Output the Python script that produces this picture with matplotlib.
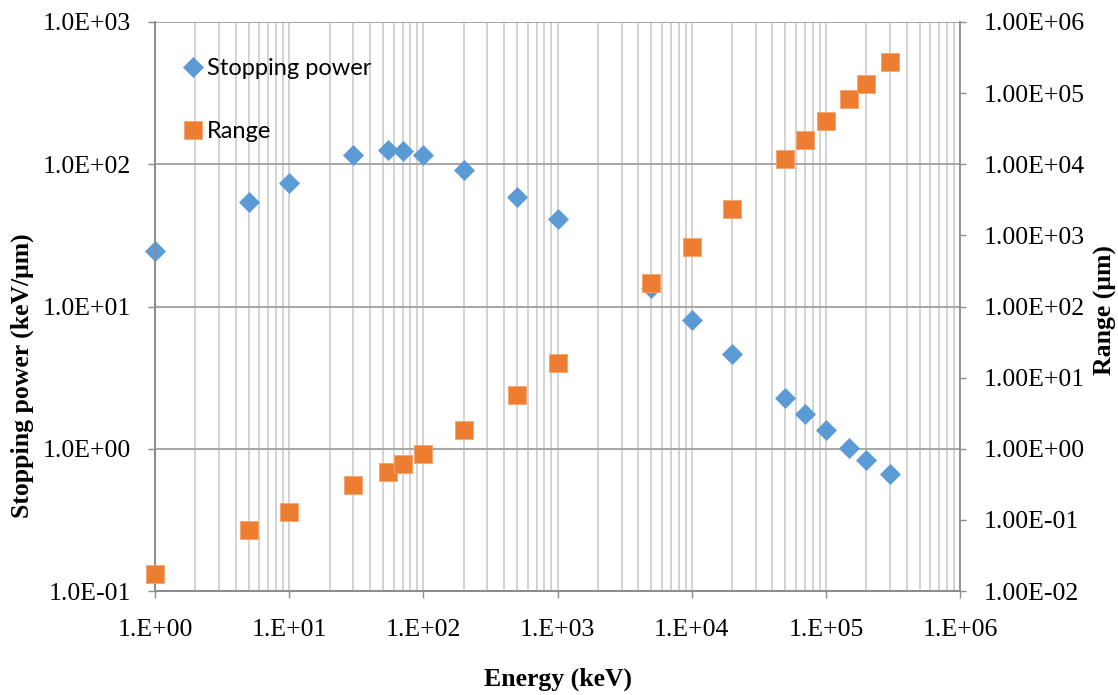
import numpy as np
import matplotlib
matplotlib.use("Agg")
import matplotlib.pyplot as plt
from matplotlib.ticker import FuncFormatter, NullLocator, LogLocator

# Data
energy_kev = [1, 5, 10, 30, 55, 70, 100, 200, 500, 1000, 5000,
              1e4, 2e4, 5e4, 7e4, 1e5, 1.5e5, 2e5, 3e5]
stopping_power = [24.4, 54, 73.5, 116, 126, 124, 116, 90.7, 58.6, 41.0, 13.6,
                  8.1, 4.67, 2.29, 1.76, 1.36, 1.02, 0.84, 0.66]
range_um = [0.0175, 0.0726, 0.13, 0.312, 0.475, 0.615, 0.85, 1.85, 5.75, 16.2, 216,
            693, 2375, 1.2e4, 2.22e4, 4.1e4, 8.4e4, 1.36e5, 2.77e5]

BLUE = "#5B9BD5"
ORANGE = "#ED7D31"
AXIS_GRAY = "#8C8C8C"
SERIF = ["Liberation Serif", "DejaVu Serif"]

fig = plt.figure(figsize=(11.18, 6.95), dpi=100)
ax = fig.add_axes([155 / 1118, 1 - 591 / 695, (960 - 155) / 1118, (591 - 22) / 695])
ax2 = ax.twinx()

# stopping power on left axis
sp, = ax.plot(energy_kev, stopping_power, linestyle="none", marker="D",
              markersize=9.7, color=BLUE, mec=BLUE, mew=0.5, label="Stopping power",
              clip_on=False, zorder=3)
ax.set_xscale("log")
ax.set_yscale("log")
ax.set_xlim(1, 1e6)
ax.set_ylim(0.1, 1000)

# range on right axis
rg, = ax2.plot(energy_kev, range_um, linestyle="none", marker="s",
               markersize=13.5, color=ORANGE, mec="#F4A46E", mew=0.6, label="Range",
               clip_on=False, zorder=3)
ax2.set_yscale("log")
ax2.set_ylim(1e-2, 1e6)

# ticks
ax.set_xticks(10.0 ** np.arange(0, 7))
ax.xaxis.set_minor_locator(LogLocator(base=10, subs=np.arange(2, 10), numticks=20))
ax.set_yticks(10.0 ** np.arange(-1, 4))
ax.yaxis.set_minor_locator(NullLocator())
ax2.set_yticks(10.0 ** np.arange(-2, 7))
ax2.yaxis.set_minor_locator(NullLocator())

ax.xaxis.set_major_formatter(FuncFormatter(lambda v, p: f"{v:#.0E}"))
ax.yaxis.set_major_formatter(FuncFormatter(lambda v, p: f"{v:.1E}"))
ax2.yaxis.set_major_formatter(FuncFormatter(lambda v, p: f"{v:.2E}"))

ax.tick_params(axis="x", which="major", length=5, width=1, color=AXIS_GRAY,
               pad=15, labelsize=18.5)
ax.tick_params(axis="x", which="minor", length=0)
ax.tick_params(axis="y", which="major", length=5, width=1, color=AXIS_GRAY,
               pad=12, labelsize=18.5)
ax2.tick_params(axis="y", which="major", length=4, width=1, color=AXIS_GRAY,
                pad=13, labelsize=18.5)
for lab in ax.get_xticklabels() + ax.get_yticklabels() + ax2.get_yticklabels():
    lab.set_family(SERIF)

# grid
ax.grid(True, axis="x", which="both", color="#D0D0D0", linewidth=1.3)
ax.grid(True, axis="y", which="major", color="#A6A6A6", linewidth=1.4)
ax.set_axisbelow(True)

for a in (ax, ax2):
    a.spines["top"].set_visible(False)
    for s in ("left", "bottom", "right"):
        a.spines[s].set_color(AXIS_GRAY)
        a.spines[s].set_linewidth(1.3)
ax.spines["right"].set_visible(False)

# axis titles
ax.set_xlabel("Energy (keV)", family=SERIF, fontweight="bold", fontsize=18.5)
ax.xaxis.set_label_coords(0.5, (591 - 679) / 569, transform=ax.transAxes)
ax.xaxis.label.set_va("center")
ax.set_ylabel("Stopping power (keV/\u03bcm)", family=SERIF, fontweight="bold", fontsize=18.5)
ax.yaxis.set_label_coords((22 - 155) / 805, (591 - 376) / 569)
ax.yaxis.label.set_va("center")
ax2.set_ylabel("Range (\u03bcm)", family=SERIF, fontweight="bold", fontsize=18.5,
               rotation=90)
ax2.yaxis.set_label_coords((1105 - 155) / 805, (591 - 310) / 569)
ax2.yaxis.label.set_va("center")

# legend
leg = ax2.legend(handles=[sp, rg], loc="upper left",
                 bbox_to_anchor=(19 / 805, 1 - 27 / 569), frameon=False,
                 prop={"family": ["Lato", "DejaVu Sans"], "size": 17},
                 handlelength=0.8, handletextpad=0.2, labelspacing=1.75,
                 borderaxespad=0, numpoints=1)

fig.savefig("out.png", dpi=100)
